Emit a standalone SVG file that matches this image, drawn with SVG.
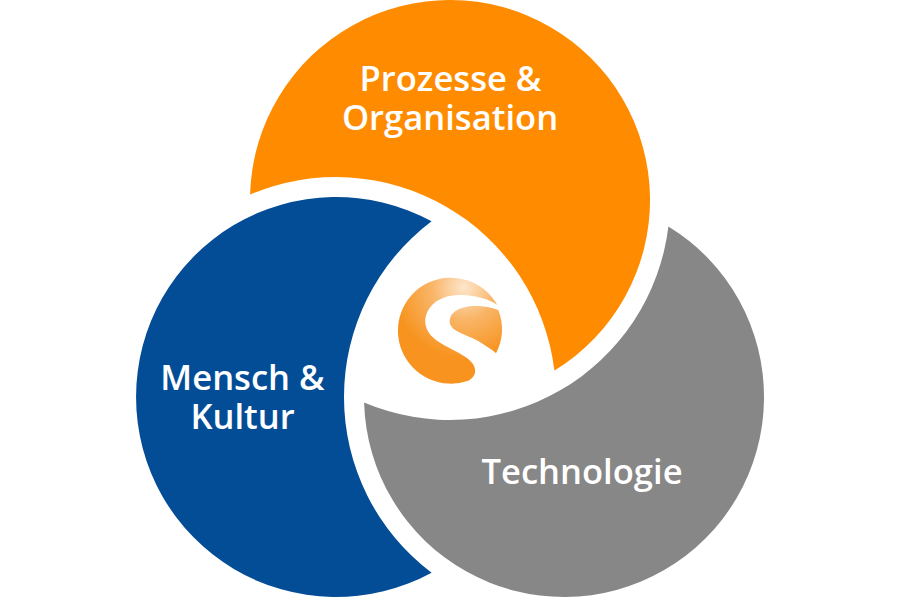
<svg xmlns="http://www.w3.org/2000/svg" width="900" height="600" viewBox="0 0 900 600">
<style>
.lbl{font-family:"Open Sans","Noto Sans","Liberation Sans",sans-serif;font-size:34.600px;font-weight:600;fill:#fff;text-anchor:middle}
</style>
<defs>
<radialGradient id="logoGrad" gradientUnits="userSpaceOnUse" cx="464" cy="287" r="72">
<stop offset="0" stop-color="#fde6cc"/>
<stop offset="0.45" stop-color="#f9b568"/>
<stop offset="1" stop-color="#f7931e"/>
</radialGradient>
</defs>
<rect width="900" height="600" fill="#fff"/>
<g id="node-prozesse">
<path d="M250.100 194.500A200 200 0 1 1 554.400 370.600A220 220 0 0 0 250.100 194.500Z" fill="#ff8c00"/>
<text class="lbl" x="450.500" y="91">Prozesse &amp;</text>
<text class="lbl" x="450" y="130">Organisation</text>
</g>
<g id="node-mensch">
<path d="M431.600 221.300A200 200 0 1 0 431.600 572.700A220 220 0 0 1 431.600 221.300Z" fill="#034d97"/>
<text class="lbl" x="242.500" y="390">Mensch &amp;</text>
<text class="lbl" x="242.500" y="429">Kultur</text>
</g>
<g id="node-technologie">
<path d="M668.400 226.400A200 200 0 1 1 364.100 402.500A220 220 0 0 0 668.400 226.400Z" fill="#878787"/>
<text class="lbl" x="582" y="484">Technologie</text>
</g>
<g id="node-logo">
<path d="M497.300 305A53 53 0 1 0 468.300 380.700C473 378 476 374 475 369C474 362 466 357 458 352.500C448 347 437 342 431 335.500C424 327 423 317 430 307.500C437 298 450 294.500 462 295C476 295.500 489 299 497.300 305Z" fill="url(#logoGrad)"/>
<path d="M498.300 310C490 307 481 305.500 473 306C463 306.500 455 310 451.500 315C448 321 449.500 326 455 330C463 335 475 338 483 344C488 347.500 493 350 496 353.300A53 53 0 0 0 498.300 310Z" fill="url(#logoGrad)"/>
</g>
<g id="connectors"/>
</svg>
